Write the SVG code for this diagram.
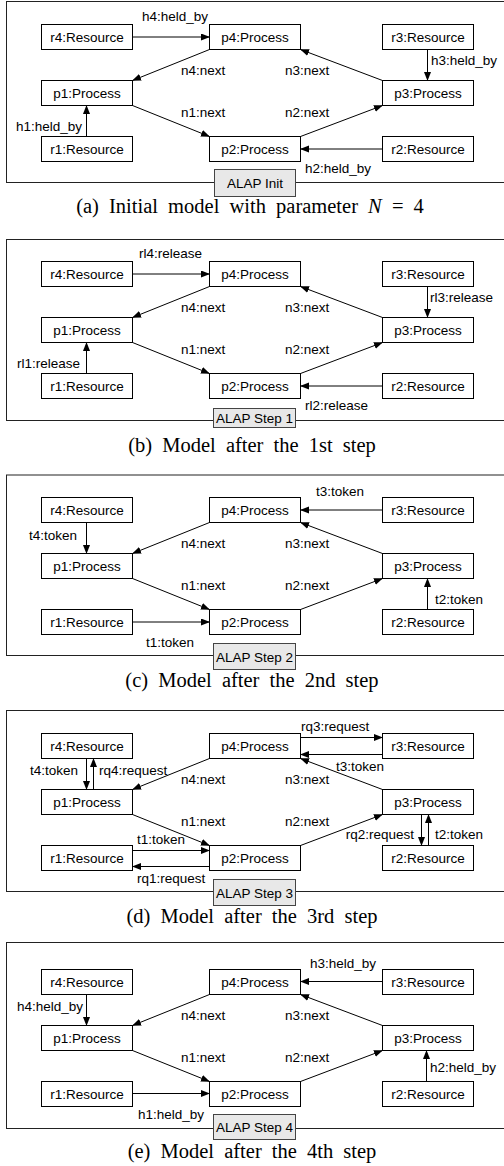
<svg xmlns="http://www.w3.org/2000/svg" width="504" height="1166" viewBox="0 0 504 1166">
<defs>
<marker id="ah" markerWidth="10" markerHeight="8" refX="8.5" refY="3.5" orient="auto" markerUnits="userSpaceOnUse"><path d="M0,0 L9,3.5 L0,7 z" fill="#000"/></marker>
<style>
.frame{fill:none;stroke:#222;stroke-width:1}
.node rect{fill:#fff;stroke:#000;stroke-width:1}
.node text{font-family:"Liberation Sans",Arial,sans-serif;font-size:13.5px;text-anchor:middle;fill:#000}
.alap rect{fill:#e8e8e8;stroke:#444;stroke-width:1}
.alap text{font-family:"Liberation Sans",Arial,sans-serif;font-size:13.5px;text-anchor:middle;fill:#000}
.conn path{fill:none;stroke:#000;stroke-width:1;marker-end:url(#ah)}
.lbl{font-family:"Liberation Sans",Arial,sans-serif;font-size:13.5px;fill:#000}
.end{text-anchor:end}
.cap{font-family:"Liberation Serif","Times New Roman",serif;font-size:20.5px;text-anchor:middle;fill:#000;word-spacing:5px}
</style>
</defs>
<rect width="504" height="1166" fill="#fff"/>

<!-- Panel (a) -->
<g id="panel-a">
<rect class="frame" x="6.5" y="1.5" width="510" height="181"/>
<g class="conn" id="a-connectors">
<path d="M132.5,37 L209.5,37"/>
<path d="M427.5,49.5 L427.5,80.5"/>
<path d="M382.5,149 L300.5,149"/>
<path d="M86.5,136.5 L86.5,105.5"/>
<path d="M209.5,49.5 L132.5,80.5"/>
<path d="M382.5,80.5 L300.5,49.5"/>
<path d="M132.5,105.5 L209.5,136.5"/>
<path d="M300.5,136.5 L382.5,105.5"/>
<text class="lbl" x="142" y="21">h4:held_by</text>
<text class="lbl" x="181" y="74.5">n4:next</text>
<text class="lbl" x="285" y="74.5">n3:next</text>
<text class="lbl" x="181" y="117">n1:next</text>
<text class="lbl" x="285" y="117">n2:next</text>
<text class="lbl" x="431" y="65">h3:held_by</text>
<text class="lbl end" x="82" y="131">h1:held_by</text>
<text class="lbl" x="305" y="173">h2:held_by</text>
</g>
<g class="node" id="a-r4"><rect x="41.5" y="24.5" width="91" height="25"/><text x="87" y="42">r4:Resource</text></g>
<g class="node" id="a-p4"><rect x="209.5" y="24.5" width="91" height="25"/><text x="255" y="42">p4:Process</text></g>
<g class="node" id="a-r3"><rect x="382.5" y="24.5" width="91" height="25"/><text x="428" y="42">r3:Resource</text></g>
<g class="node" id="a-p1"><rect x="41.5" y="80.5" width="91" height="25"/><text x="87" y="98">p1:Process</text></g>
<g class="node" id="a-p3"><rect x="382.5" y="80.5" width="91" height="25"/><text x="428" y="98">p3:Process</text></g>
<g class="node" id="a-r1"><rect x="41.5" y="136.5" width="91" height="25"/><text x="87" y="154">r1:Resource</text></g>
<g class="node" id="a-p2"><rect x="209.5" y="136.5" width="91" height="25"/><text x="255" y="154">p2:Process</text></g>
<g class="node" id="a-r2"><rect x="382.5" y="136.5" width="91" height="25"/><text x="428" y="154">r2:Resource</text></g>
<g class="alap" id="a-alap"><rect x="214.5" y="169.5" width="81" height="27"/><text x="255" y="188">ALAP Init</text></g>
</g>
<text class="cap" x="250" y="213">(a) Initial model with parameter <tspan font-style="italic">N</tspan> = 4</text>

<!-- Panel (b) -->
<g id="panel-b" transform="translate(0,237)">
<rect class="frame" x="6.5" y="2.5" width="510" height="181"/>
<g class="conn" id="b-connectors">
<path d="M132.5,37 L209.5,37"/>
<path d="M427.5,49.5 L427.5,80.5"/>
<path d="M382.5,149 L300.5,149"/>
<path d="M86.5,136.5 L86.5,105.5"/>
<path d="M209.5,49.5 L132.5,80.5"/>
<path d="M382.5,80.5 L300.5,49.5"/>
<path d="M132.5,105.5 L209.5,136.5"/>
<path d="M300.5,136.5 L382.5,105.5"/>
<text class="lbl" x="139" y="21">rl4:release</text>
<text class="lbl" x="181" y="74.5">n4:next</text>
<text class="lbl" x="285" y="74.5">n3:next</text>
<text class="lbl" x="181" y="117">n1:next</text>
<text class="lbl" x="285" y="117">n2:next</text>
<text class="lbl" x="430" y="65">rl3:release</text>
<text class="lbl end" x="80" y="131">rl1:release</text>
<text class="lbl" x="305" y="173">rl2:release</text>
</g>
<g class="node" id="b-r4"><rect x="41.5" y="24.5" width="91" height="25"/><text x="87" y="42">r4:Resource</text></g>
<g class="node" id="b-p4"><rect x="209.5" y="24.5" width="91" height="25"/><text x="255" y="42">p4:Process</text></g>
<g class="node" id="b-r3"><rect x="382.5" y="24.5" width="91" height="25"/><text x="428" y="42">r3:Resource</text></g>
<g class="node" id="b-p1"><rect x="41.5" y="80.5" width="91" height="25"/><text x="87" y="98">p1:Process</text></g>
<g class="node" id="b-p3"><rect x="382.5" y="80.5" width="91" height="25"/><text x="428" y="98">p3:Process</text></g>
<g class="node" id="b-r1"><rect x="41.5" y="136.5" width="91" height="25"/><text x="87" y="154">r1:Resource</text></g>
<g class="node" id="b-p2"><rect x="209.5" y="136.5" width="91" height="25"/><text x="255" y="154">p2:Process</text></g>
<g class="node" id="b-r2"><rect x="382.5" y="136.5" width="91" height="25"/><text x="428" y="154">r2:Resource</text></g>
<g class="alap" id="b-alap"><rect x="213.5" y="171.5" width="82" height="19"/><text x="254.5" y="185.5">ALAP Step 1</text></g>
</g>
<text class="cap" x="252" y="451.5">(b) Model after the 1st step</text>

<!-- Panel (c) -->
<g id="panel-c" transform="translate(0,473)">
<rect class="frame" x="6.5" y="2" width="510" height="180.5"/>
<g class="conn" id="c-connectors">
<path d="M382.5,37 L300.5,37"/>
<path d="M86.5,49.5 L86.5,80.5"/>
<path d="M132.5,149 L209.5,149"/>
<path d="M427.5,136.5 L427.5,105.5"/>
<path d="M209.5,49.5 L132.5,80.5"/>
<path d="M382.5,80.5 L300.5,49.5"/>
<path d="M132.5,105.5 L209.5,136.5"/>
<path d="M300.5,136.5 L382.5,105.5"/>
<text class="lbl" x="316" y="23">t3:token</text>
<text class="lbl end" x="77" y="66.5">t4:token</text>
<text class="lbl" x="181" y="74.5">n4:next</text>
<text class="lbl" x="285" y="74.5">n3:next</text>
<text class="lbl" x="181" y="117">n1:next</text>
<text class="lbl" x="285" y="117">n2:next</text>
<text class="lbl" x="435" y="130.5">t2:token</text>
<text class="lbl" x="146" y="174">t1:token</text>
</g>
<g class="node" id="c-r4"><rect x="41.5" y="24.5" width="91" height="25"/><text x="87" y="42">r4:Resource</text></g>
<g class="node" id="c-p4"><rect x="209.5" y="24.5" width="91" height="25"/><text x="255" y="42">p4:Process</text></g>
<g class="node" id="c-r3"><rect x="382.5" y="24.5" width="91" height="25"/><text x="428" y="42">r3:Resource</text></g>
<g class="node" id="c-p1"><rect x="41.5" y="80.5" width="91" height="25"/><text x="87" y="98">p1:Process</text></g>
<g class="node" id="c-p3"><rect x="382.5" y="80.5" width="91" height="25"/><text x="428" y="98">p3:Process</text></g>
<g class="node" id="c-r1"><rect x="41.5" y="136.5" width="91" height="25"/><text x="87" y="154">r1:Resource</text></g>
<g class="node" id="c-p2"><rect x="209.5" y="136.5" width="91" height="25"/><text x="255" y="154">p2:Process</text></g>
<g class="node" id="c-r2"><rect x="382.5" y="136.5" width="91" height="25"/><text x="428" y="154">r2:Resource</text></g>
<g class="alap" id="c-alap"><rect x="213.5" y="170.5" width="82" height="26"/><text x="254.5" y="188.5">ALAP Step 2</text></g>
</g>
<text class="cap" x="252" y="686.5">(c) Model after the 2nd step</text>

<!-- Panel (d) -->
<g id="panel-d" transform="translate(0,709)">
<rect class="frame" x="6.5" y="1.5" width="510" height="181"/>
<g class="conn" id="d-connectors">
<path d="M86.5,49.5 L86.5,80.5"/>
<path d="M93.5,80.5 L93.5,49.5"/>
<path d="M132.5,141.5 L209.5,141.5"/>
<path d="M209.5,157.5 L132.5,157.5"/>
<path d="M300.5,28.5 L382.5,28.5"/>
<path d="M382.5,45.5 L300.5,45.5"/>
<path d="M421.5,105.5 L421.5,136.5"/>
<path d="M428.5,136.5 L428.5,105.5"/>
<path d="M209.5,49.5 L132.5,80.5"/>
<path d="M382.5,80.5 L300.5,49.5"/>
<path d="M132.5,105.5 L209.5,136.5"/>
<path d="M300.5,136.5 L382.5,105.5"/>
<text class="lbl end" x="78" y="65.5">t4:token</text>
<text class="lbl" x="99" y="65.5">rq4:request</text>
<text class="lbl" x="181" y="74.5">n4:next</text>
<text class="lbl" x="285" y="74.5">n3:next</text>
<text class="lbl" x="181" y="117">n1:next</text>
<text class="lbl" x="285" y="117">n2:next</text>
<text class="lbl" x="137" y="135">t1:token</text>
<text class="lbl" x="137" y="174">rq1:request</text>
<text class="lbl" x="301" y="21.5">rq3:request</text>
<text class="lbl" x="336" y="61.5">t3:token</text>
<text class="lbl end" x="414" y="129.5">rq2:request</text>
<text class="lbl" x="435" y="129.5">t2:token</text>
</g>
<g class="node" id="d-r4"><rect x="41.5" y="24.5" width="91" height="25"/><text x="87" y="42">r4:Resource</text></g>
<g class="node" id="d-p4"><rect x="209.5" y="24.5" width="91" height="25"/><text x="255" y="42">p4:Process</text></g>
<g class="node" id="d-r3"><rect x="382.5" y="24.5" width="91" height="25"/><text x="428" y="42">r3:Resource</text></g>
<g class="node" id="d-p1"><rect x="41.5" y="80.5" width="91" height="25"/><text x="87" y="98">p1:Process</text></g>
<g class="node" id="d-p3"><rect x="382.5" y="80.5" width="91" height="25"/><text x="428" y="98">p3:Process</text></g>
<g class="node" id="d-r1"><rect x="41.5" y="136.5" width="91" height="25"/><text x="87" y="154">r1:Resource</text></g>
<g class="node" id="d-p2"><rect x="209.5" y="136.5" width="91" height="25"/><text x="255" y="154">p2:Process</text></g>
<g class="node" id="d-r2"><rect x="382.5" y="136.5" width="91" height="25"/><text x="428" y="154">r2:Resource</text></g>
<g class="alap" id="d-alap"><rect x="213.5" y="170.5" width="82" height="26"/><text x="254.5" y="188.5">ALAP Step 3</text></g>
</g>
<text class="cap" x="252" y="922.5">(d) Model after the 3rd step</text>

<!-- Panel (e) -->
<g id="panel-e" transform="translate(0,945)">
<rect class="frame" x="6.5" y="-2.5" width="510" height="186"/>
<g class="conn" id="e-connectors">
<path d="M382.5,36.5 L300.5,36.5"/>
<path d="M86.5,49.5 L86.5,80.5"/>
<path d="M132.5,148.5 L209.5,148.5"/>
<path d="M426.5,136.5 L426.5,105.5"/>
<path d="M209.5,49.5 L132.5,80.5"/>
<path d="M382.5,80.5 L300.5,49.5"/>
<path d="M132.5,105.5 L209.5,136.5"/>
<path d="M300.5,136.5 L382.5,105.5"/>
<text class="lbl" x="310" y="23">h3:held_by</text>
<text class="lbl end" x="83" y="66">h4:held_by</text>
<text class="lbl" x="181" y="74.5">n4:next</text>
<text class="lbl" x="285" y="74.5">n3:next</text>
<text class="lbl" x="181" y="117">n1:next</text>
<text class="lbl" x="285" y="117">n2:next</text>
<text class="lbl" x="430" y="127">h2:held_by</text>
<text class="lbl" x="138" y="173.5">h1:held_by</text>
</g>
<g class="node" id="e-r4"><rect x="41.5" y="24.5" width="91" height="25"/><text x="87" y="42">r4:Resource</text></g>
<g class="node" id="e-p4"><rect x="209.5" y="24.5" width="91" height="25"/><text x="255" y="42">p4:Process</text></g>
<g class="node" id="e-r3"><rect x="382.5" y="24.5" width="91" height="25"/><text x="428" y="42">r3:Resource</text></g>
<g class="node" id="e-p1"><rect x="41.5" y="80.5" width="91" height="25"/><text x="87" y="98">p1:Process</text></g>
<g class="node" id="e-p3"><rect x="382.5" y="80.5" width="91" height="25"/><text x="428" y="98">p3:Process</text></g>
<g class="node" id="e-r1"><rect x="41.5" y="136.5" width="91" height="25"/><text x="87" y="154">r1:Resource</text></g>
<g class="node" id="e-p2"><rect x="209.5" y="136.5" width="91" height="25"/><text x="255" y="154">p2:Process</text></g>
<g class="node" id="e-r2"><rect x="382.5" y="136.5" width="91" height="25"/><text x="428" y="154">r2:Resource</text></g>
<g class="alap" id="e-alap"><rect x="213.5" y="169.5" width="82" height="25"/><text x="254.5" y="187">ALAP Step 4</text></g>
</g>
<text class="cap" x="252" y="1158">(e) Model after the 4th step</text>
</svg>
